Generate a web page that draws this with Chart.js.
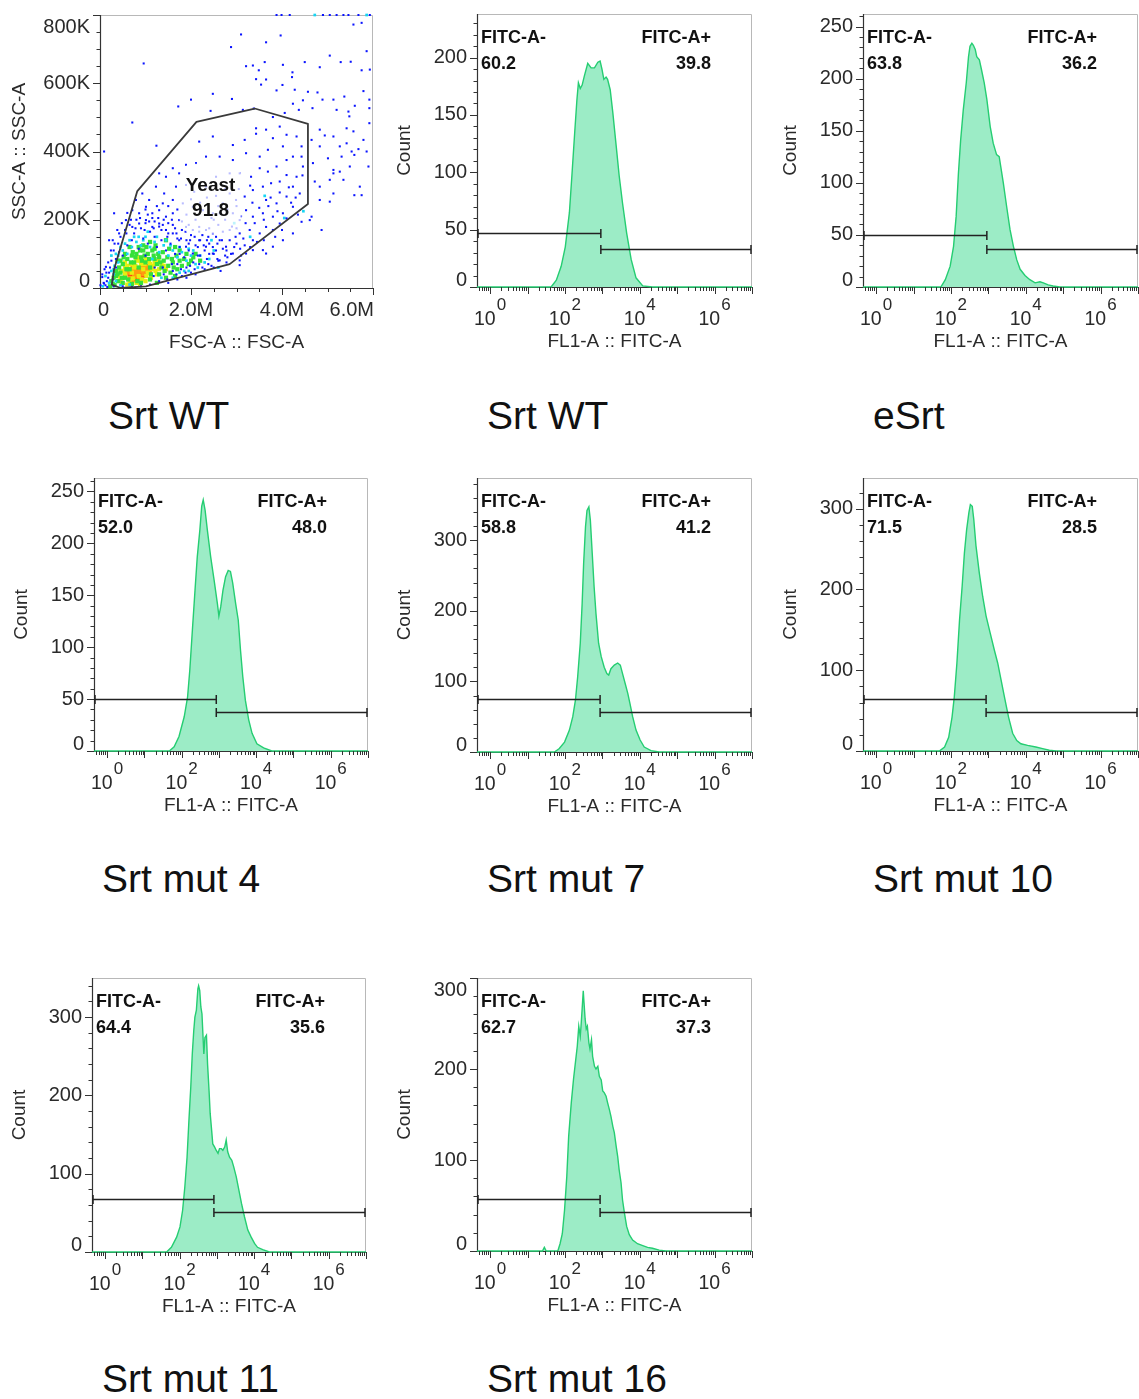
<!DOCTYPE html>
<html>
<head>
<meta charset="utf-8">
<script src="https://cdn.jsdelivr.net/npm/chart.js@4.4.1/dist/chart.umd.min.js"></script>
<style>
  body { margin:0; background:#fff; width:1139px; height:1399px; position:relative; overflow:hidden;
         font-family:"Liberation Sans", Arial, sans-serif; }
  canvas { position:absolute; }
  .title { position:absolute; font-size:39px; line-height:1; color:#111; white-space:nowrap; }
</style>
</head>
<body>
<script>
// ---------------- sample titles ----------------
const panelTitles = ['Srt WT', 'Srt WT', 'eSrt', 'Srt mut 4', 'Srt mut 7', 'Srt mut 10', 'Srt mut 11', 'Srt mut 16'];

// ---------------- FSC-A (M) / SSC-A (K) events, by density level ----------------
const eventsBlue = [
  3.10,743, 2.88,706, 3.65,720, 3.97,740, 5.57,772, 5.75,777, 5.86,694, 5.93,640, 5.75,638, 0.96,658,
  3.21,650, 3.36,652, 3.62,662, 3.49,638, 4.02,654, 4.23,632, 4.50,662, 4.83,647, 5.05,681, 5.29,662,
  5.51,663, 3.43,612, 3.65,611, 3.54,596, 3.88,579, 4.01,595, 4.22,618, 4.28,581, 4.57,575, 4.78,573,
  5.13,552, 5.37,561, 5.79,577, 5.60,534, 5.46,517, 5.20,522, 5.48,503, 5.92,527, 5.92,483, 2.00,552,
  2.48,569, 2.90,554, 1.72,532, 2.43,519, 3.14,522, 3.38,526, 4.24,540, 4.37,522, 4.46,550, 4.67,527,
  4.89,552, 4.06,513, 3.80,501, 0.71,485, 1.24,417, 0.09,400,
  4.83,464, 4.94,447, 5.13,444, 5.27,415, 5.42,424, 5.53,400, 5.59,390, 5.68,407, 5.79,434, 5.86,400,
  5.90,356, 5.49,356, 5.27,341, 5.13,336, 5.05,317, 4.83,297, 4.72,312, 4.68,366, 4.65,434, 5.35,317,
  5.59,272, 5.75,272, 5.71,297, 5.05,253, 4.83,258, 5.13,277, 4.65,209, 4.87,170, 5.13,346, 5.31,385,
  5.57,459, 5.42,468, 4.83,415, 5.01,380, 5.92,552,
  2.18,429, 2.48,444, 2.92,419, 3.18,434, 3.43,468, 3.43,452, 3.65,464, 3.80,439, 3.95,473, 4.10,449,
  4.32,444, 4.43,415, 4.02,415, 3.69,405, 3.51,385, 3.21,395, 2.92,375, 2.63,385, 2.33,385, 2.11,366,
  1.89,361, 1.74,336, 1.60,351, 1.45,326, 1.30,336, 1.23,297, 1.41,277, 1.67,297, 1.89,302, 2.07,282,
  2.33,297, 2.55,326, 2.85,336, 3.07,336, 3.32,326, 3.51,351, 3.69,341, 3.88,356, 4.10,375, 4.24,385,
  4.43,385, 4.46,356, 4.32,326, 4.10,331, 3.95,312, 3.76,307, 3.58,297, 3.36,287, 3.18,268, 2.99,258,
  2.85,277, 2.70,248, 2.63,219,
  3.65,258, 3.88,248, 4.10,268, 4.24,297, 4.39,277, 4.24,238, 4.02,219, 3.80,209, 3.58,219, 3.36,209,
  3.21,228, 3.07,199, 2.92,219, 2.85,170, 3.07,160, 3.29,170, 3.51,160, 3.65,179, 3.80,170, 3.95,189,
  4.10,204, 3.36,140, 3.58,111, 3.21,101, 3.07,81, 2.92,101, 2.77,121, 2.63,140, 2.48,160, 2.33,170,
  2.18,179, 2.04,170, 1.89,179, 1.74,199, 1.60,219, 1.45,209, 1.30,228, 1.15,219, 1.01,238, 0.86,219,
  0.71,228, 0.79,258, 0.93,277, 1.08,258, 1.38,248, 1.60,258, 1.82,248, 2.04,238, 2.26,228, 2.48,219,
  2.18,140, 2.33,121, 2.48,101, 2.63,81, 2.04,101, 1.89,121, 1.74,140, 1.60,160, 1.45,170, 1.30,189,
  1.15,179, 1.01,199, 0.86,189, 0.71,179, 0.57,199, 0.42,160, 0.31,219, 0.20,140, 0.13,62, 0.05,32,
  0.09,13, 0.16,3, 0.01,8, 4.43,194, 4.61,199, 3.80,121, 3.65,101, 4.02,140, 4.24,160,
  0.15,20, 0.20,45, 0.25,80, 0.30,110, 0.35,60, 0.40,130, 0.45,150, 0.50,95, 0.55,170, 0.60,125,
  0.65,185, 0.70,140, 0.75,160, 0.80,200, 0.85,115, 0.90,175, 0.95,145, 1.00,190, 1.05,130, 1.10,165,
  1.15,205, 1.20,150, 1.25,120, 1.30,180, 1.35,140, 1.40,200, 1.45,110, 1.50,160, 1.55,130, 1.60,185,
  1.65,100, 1.70,145, 1.75,120, 1.80,170, 1.85,90, 1.90,140, 1.95,110, 2.00,155, 2.05,75, 2.10,125,
  2.15,95, 2.20,140, 2.25,60, 2.30,110, 2.35,85, 2.40,130, 2.45,65, 2.50,100, 2.60,80, 2.70,115,
  2.80,90, 1.20,60, 1.40,40, 1.60,50, 1.80,35, 2.00,45, 1.30,20, 1.50,15, 1.10,10, 0.90,5,
  0.70,3, 0.50,5, 0.30,5, 0.12,8, 0.18,30, 0.28,25, 0.22,60, 0.35,85, 0.42,105, 1.00,95,
  1.70,70, 1.90,60, 2.20,95, 2.40,100, 0.60,220, 1.00,230, 1.25,240, 0.05,40, 0.08,15, 0.10,55,
  1.05,215, 1.20,195, 1.35,170, 1.50,190, 1.65,175, 1.80,195, 1.95,185, 2.10,200, 2.25,155, 2.40,175,
  2.55,150, 2.70,165, 2.85,140, 3.00,130, 3.15,145, 3.30,120, 3.45,135, 3.00,175, 3.20,190, 2.75,200,
  2.60,185, 2.45,205, 1.90,215, 1.70,230, 1.50,240, 2.00,260, 2.20,250, 2.35,265, 2.60,240, 2.80,230,
  3.00,240, 3.35,250, 3.50,235, 3.70,240, 3.90,225, 4.20,250, 4.35,215, 4.00,170, 3.85,150, 3.60,140,
  2.95,120, 2.75,95, 2.55,110, 2.35,140, 2.15,120, 1.95,130, 1.75,100, 2.65,50, 2.50,60, 2.30,55,
  2.10,40, 1.90,30, 1.70,25, 3.10,95, 3.36,111, 3.07,67,
  0.28,140, 0.38,170, 0.48,190, 0.58,160, 0.68,200, 0.78,175, 0.88,205, 0.98,170, 1.08,195, 1.18,175,
  1.28,205, 1.38,185, 1.48,150, 1.58,200, 1.68,160, 1.78,145, 1.88,165, 1.98,140, 2.08,150, 2.18,165,
  2.28,125, 2.38,150, 2.48,120, 2.58,130, 2.68,140, 2.78,110, 2.88,100, 2.98,150, 3.08,115, 3.18,125,
  1.38,60, 1.58,70, 1.78,55, 1.98,65, 2.18,70, 2.38,70, 2.58,85, 2.78,75, 1.48,25, 1.68,40,
  1.88,45, 2.08,55, 1.18,35, 0.14,45, 0.18,75, 0.24,110, 0.32,130, 2.20,230, 2.50,200, 2.90,180,
  3.10,210, 3.40,190, 3.60,200, 3.75,265, 3.95,280, 4.15,295, 4.30,265, 4.45,330, 3.30,300, 3.05,290,
  2.75,290, 2.55,270,
  3.88,800, 3.99,800, 4.17,800, 4.90,800, 5.05,800, 5.20,800, 5.35,800, 5.46,800, 5.68,800, 5.93,800
];
const eventsCyan = [
  0.20,15, 0.30,40, 0.35,20, 0.40,75, 0.50,110, 0.55,130, 0.60,100, 0.70,120, 0.80,135, 0.90,125,
  1.00,150, 1.10,120, 1.20,135, 1.30,105, 1.40,125, 1.50,95, 1.60,110, 1.70,90, 1.80,105, 1.90,80,
  2.00,95, 2.10,70, 2.30,75, 2.60,60, 1.15,85, 0.45,8, 0.65,10, 1.35,30, 1.60,30, 1.85,50,
  0.25,95, 0.32,65, 2.45,140, 2.95,190, 3.30,150, 3.62,270, 4.05,205, 4.47,225, 0.12,35, 0.06,5,
  1.05,165, 0.75,150, 4.72,800, 5.86,800,
  0.30,55, 0.40,95, 0.45,120, 0.65,140, 0.85,150, 0.95,140, 1.25,150, 1.45,140, 1.55,125, 1.75,120,
  1.95,115, 2.05,110, 2.20,95, 2.40,85, 2.50,110, 2.15,60, 1.95,50, 1.75,45, 0.25,50, 0.35,100
];
const eventsGreen = [
  0.30,30, 0.35,50, 0.40,20, 0.45,45, 0.50,70, 0.55,30, 0.60,85, 0.65,55, 0.70,95, 0.75,75,
  0.80,100, 0.85,60, 0.90,90, 0.95,110, 1.00,75, 1.05,100, 1.10,60, 1.15,110, 1.20,85, 1.25,70,
  1.30,90, 1.35,60, 1.40,80, 1.50,65, 1.60,75, 1.70,55, 1.80,65, 0.50,15, 0.70,12, 0.90,15,
  1.10,25, 1.30,40, 1.55,45, 0.38,80, 0.85,120, 1.20,115, 1.95,70, 0.28,12, 2.05,90, 2.20,80,
  1.65,120, 1.45,140,
  0.22,5, 0.25,20, 0.32,8, 0.38,40, 0.42,60, 0.48,30, 0.52,90, 0.58,55, 0.62,25, 0.68,75,
  0.72,105, 0.78,90, 0.82,20, 0.88,110, 0.92,80, 0.98,95, 1.02,120, 1.08,85, 1.12,40, 1.18,95,
  1.22,125, 1.28,100, 1.32,75, 1.38,105, 1.42,50, 1.48,90, 1.52,115, 1.58,85, 1.62,60, 1.68,95,
  1.75,80, 1.85,85, 1.90,100, 2.00,80, 0.45,80, 0.55,100, 0.65,120, 0.35,35, 1.25,15, 1.45,30,
  1.65,35, 0.95,125, 1.10,135, 1.75,110, 2.10,100
];
const eventsYellow = [
  0.40,35, 0.45,25, 0.50,50, 0.55,40, 0.60,65, 0.65,20, 0.70,45, 0.75,60, 0.80,80, 0.85,35,
  0.90,70, 0.95,55, 1.00,85, 1.05,45, 1.10,70, 1.15,55, 1.20,75, 1.30,55, 1.40,65, 0.60,10,
  0.80,15, 1.00,20, 1.25,40, 0.55,75,
  0.45,50, 0.50,30, 0.55,60, 0.62,55, 0.68,70, 0.72,28, 0.78,65, 0.82,90, 0.88,80, 0.92,25,
  0.98,70, 1.02,35, 1.08,80, 1.12,30, 1.18,65, 1.22,50, 1.28,80, 1.35,70, 0.48,15, 0.68,8,
  0.88,10, 1.45,55
];
const eventsOrange = [
  0.55,35, 0.60,45, 0.65,30, 0.70,55, 0.75,40, 0.80,55, 0.85,45, 0.90,60, 0.95,40, 1.00,55,
  1.05,65, 1.10,45, 0.70,20, 0.90,25, 1.15,60,
  0.62,55, 0.68,45, 0.72,65, 0.78,50, 0.82,40, 0.88,55, 0.92,50, 0.98,60, 1.02,48, 0.75,30,
  0.85,30, 1.08,55
];
const eventsRed = [
  0.65,40, 0.70,35, 0.75,48, 0.80,30, 0.85,50, 0.90,42, 0.95,35, 0.78,22, 1.00,45, 0.72,58,
  0.68,45, 0.82,40, 0.88,45, 0.78,55, 0.92,50, 0.72,30
];

// Yeast gate vertices (FSC-A in M, SSC-A in K) and its frequency
const yeastGate = [[0.82,284],[0.31,55],[0.26,10],[0.45,0],[1.01,5],[2.85,70],[4.57,246],[4.57,481],[3.40,526],[2.12,487]];
const yeastPct = '91.8';
const yeastLabelAt = [2.43, 300];

// scatter axis ticks
const fscMajor = [0, 2, 4, 6];
const fscLabels = ['0', '2.0M', '4.0M', '6.0M'];
const fscMinor = [0.5, 1, 1.5, 2.5, 3, 3.5, 4.5, 5, 5.5];
const sscMajor = [0, 200, 400, 600, 800];
const sscLabels = ['0', '200K', '400K', '600K', '800K'];
const sscMinor = [50, 100, 150, 250, 300, 350, 450, 500, 550, 650, 700, 750];

// ---------------- FITC-A histograms: [log10 FL1-A, count] ----------------
const histWT = [[-0.35,0],[1.63,0],[1.77,6],[1.90,18],[2.01,35],[2.12,65],[2.19,99],[2.26,134],[2.32,163],[2.36,178],
  [2.41,173],[2.46,176],[2.52,184],[2.61,195],[2.70,191],[2.79,191],[2.88,196],[2.94,197],[2.99,190],[3.04,181],
  [3.10,183],[3.14,181],[3.21,172],[3.28,152],[3.37,123],[3.45,97],[3.54,73],[3.65,47],[3.77,24],[3.90,8],
  [4.08,1],[4.34,0],[7,0]];
const histESrt = [[-0.35,0],[1.73,0],[1.85,7],[1.98,20],[2.07,39],[2.14,68],[2.20,109],[2.26,141],[2.33,170],[2.41,196],
  [2.47,221],[2.51,231],[2.56,234],[2.60,232],[2.65,228],[2.69,221],[2.76,218],[2.82,208],[2.89,196],[2.96,180],
  [3.05,154],[3.13,138],[3.22,127],[3.29,125],[3.33,116],[3.40,100],[3.49,77],[3.58,55],[3.67,39],[3.76,26],
  [3.85,17],[3.98,11],[4.11,7],[4.25,4],[4.38,5],[4.47,4],[4.60,2],[4.73,1],[4.91,0],[7,0]];
const histMut4 = [[-0.35,0],[1.67,0],[1.80,4],[1.93,14],[2.07,33],[2.16,52],[2.22,78],[2.29,117],[2.36,155],[2.42,187],
  [2.49,213],[2.54,236],[2.58,242],[2.63,232],[2.69,213],[2.78,187],[2.87,165],[2.96,142],[3.00,130],[3.05,139],
  [3.11,155],[3.18,168],[3.25,174],[3.31,173],[3.37,162],[3.45,142],[3.52,126],[3.58,97],[3.64,72],[3.71,49],
  [3.80,30],[3.89,17],[4.02,7],[4.20,3],[4.42,0],[7,0]];
const histMut7 = [[-0.35,0],[1.72,0],[1.85,5],[1.99,14],[2.12,31],[2.21,50],[2.28,73],[2.34,106],[2.41,154],[2.46,210],
  [2.50,267],[2.55,319],[2.59,342],[2.64,347],[2.68,328],[2.73,281],[2.78,234],[2.83,196],[2.90,154],[2.97,135],
  [3.05,120],[3.12,111],[3.17,109],[3.23,118],[3.32,123],[3.41,126],[3.48,123],[3.54,111],[3.61,97],[3.68,83],
  [3.74,68],[3.81,50],[3.90,31],[4.01,17],[4.12,7],[4.30,2],[4.52,0],[7,0]];
const histMut10 = [[-0.35,0],[1.69,0],[1.83,5],[1.94,17],[2.03,42],[2.09,67],[2.16,109],[2.23,162],[2.30,204],[2.36,245],
  [2.42,274],[2.48,295],[2.52,305],[2.57,303],[2.61,287],[2.67,254],[2.76,220],[2.85,191],[2.94,167],[3.05,146],
  [3.16,125],[3.25,109],[3.34,88],[3.43,67],[3.54,42],[3.65,22],[3.76,13],[3.87,9],[4.05,7],[4.27,5],
  [4.45,3],[4.63,1],[4.81,0],[7,0]];
const histMut11 = [[-0.35,0],[1.65,0],[1.78,6],[1.92,19],[2.01,32],[2.08,53],[2.14,83],[2.20,121],[2.25,168],[2.30,211],
  [2.34,253],[2.38,283],[2.41,300],[2.45,309],[2.49,336],[2.51,340],[2.54,334],[2.57,313],[2.60,304],[2.65,253],
  [2.68,274],[2.72,277],[2.75,240],[2.79,206],[2.82,177],[2.86,155],[2.89,138],[2.94,134],[2.98,130],[3.03,126],
  [3.07,132],[3.12,132],[3.16,130],[3.21,134],[3.25,143],[3.29,128],[3.34,121],[3.40,117],[3.45,109],[3.52,96],
  [3.59,79],[3.66,62],[3.74,45],[3.83,28],[3.92,19],[4.01,11],[4.09,6],[4.23,3],[4.41,0],[7,0]];
const histMut16 = [[-0.35,0],[1.40,0],[1.45,4],[1.50,0],[1.81,0],[1.87,8],[1.93,19],[1.99,45],[2.05,82],[2.10,126],
  [2.17,163],[2.23,189],[2.28,207],[2.33,225],[2.37,247],[2.41,236],[2.43,247],[2.46,266],[2.49,286],[2.51,273],
  [2.54,255],[2.57,244],[2.60,247],[2.64,229],[2.67,222],[2.71,232],[2.74,214],[2.79,203],[2.83,200],[2.88,203],
  [2.92,192],[2.97,188],[3.01,176],[3.05,174],[3.10,170],[3.14,163],[3.19,155],[3.23,148],[3.28,137],[3.32,130],
  [3.37,115],[3.41,104],[3.45,89],[3.50,75],[3.54,56],[3.59,42],[3.65,27],[3.72,18],[3.81,12],[3.94,8],
  [4.08,6],[4.21,4],[4.34,3],[4.52,1],[4.70,0],[7,0]];
const histograms = [histWT, histESrt, histMut4, histMut7, histMut10, histMut11, histMut16];

// FITC-A gates: split point (log10), bar heights (count) and frequencies
const gateSplitLog = [2.96, 2.96, 2.93, 2.94, 2.94, 2.92, 2.94];
const gateNegLevel = [47, 50, 50, 75, 64, 68, 57];
const gatePosLevel = [33, 36, 38, 57, 48, 51, 43];
const fitcNegPct = ['60.2', '63.8', '52.0', '58.8', '71.5', '64.4', '62.7'];
const fitcPosPct = ['39.8', '36.2', '48.0', '41.2', '28.5', '35.6', '37.3'];

// count axes
const countMax = [238, 262, 263, 388, 338, 350, 300];
const countStep = [50, 50, 50, 100, 100, 100, 100];
const countMinorStep = [10, 10, 10, 20, 20, 20, 20];
// FL1-A axis
const flLogMin = -0.35, flLogMax = 7;
const decadeLabels = [0, 2, 4, 6];

// ---------------- page layout ----------------
const scatterBox = {l:100, t:15, r:373, b:288};
const histBoxes = [
  {l:477, t:14,  r:752,  b:287},
  {l:863, t:14,  r:1138, b:287},
  {l:94,  t:478, r:368,  b:751},
  {l:477, t:478, r:752,  b:752},
  {l:863, t:478, r:1138, b:751},
  {l:92,  t:978, r:366,  b:1252},
  {l:477, t:978, r:752,  b:1251}
];
const titleSpots = [[108,396],[487,396],[873,396],[102,859],[487,859],[873,859],[102,1359],[487,1359]];
const PAD = {left:100, top:14, right:25, bottom:75};
const FONT = '"Liberation Sans", Arial, sans-serif';
const INK = '#2a2a2a';

function makeCanvas(box) {
  const c = document.createElement('canvas');
  const w = box.r - box.l + PAD.left + PAD.right;
  const h = box.b - box.t + PAD.top + PAD.bottom;
  c.width = w; c.height = h;
  c.style.left = (box.l - PAD.left) + 'px';
  c.style.top = (box.t - PAD.top) + 'px';
  c.style.width = w + 'px';
  c.style.height = h + 'px';
  document.body.appendChild(c);
  return c;
}

function toPoints(flat) {
  const out = [];
  for (let i = 0; i < flat.length; i += 2) out.push({x: flat[i], y: flat[i + 1]});
  return out;
}

// Frame, ticks, tick labels, axis titles, gates and gate labels for one panel
function panelPlugin(spec) {
  return {
    id: 'flowPanel',
    beforeDatasetsDraw(chart) {
      const {ctx, chartArea: a} = chart;
      ctx.save();
      ctx.lineWidth = 1;
      ctx.strokeStyle = '#b8b8b8';
      ctx.beginPath();
      ctx.moveTo(a.left, a.top + 0.5);
      ctx.lineTo(a.right - 0.5, a.top + 0.5);
      ctx.lineTo(a.right - 0.5, a.bottom);
      ctx.stroke();
      ctx.strokeStyle = '#333';
      ctx.lineWidth = 1.2;
      ctx.beginPath();
      ctx.moveTo(a.left + 0.5, a.top);
      ctx.lineTo(a.left + 0.5, a.bottom + 0.5);
      ctx.lineTo(a.right, a.bottom + 0.5);
      ctx.stroke();
      ctx.restore();
    },
    afterDatasetsDraw(chart) {
      const {ctx, chartArea: a, scales} = chart;
      const xs = scales.x, ys = scales.y;
      ctx.save();

      // gate polygon (scatter)
      if (spec.polygon) {
        ctx.strokeStyle = '#3a3a3a';
        ctx.lineWidth = 1.8;
        ctx.lineJoin = 'round';
        ctx.beginPath();
        spec.polygon.forEach(([x, y], i) => {
          const px = xs.getPixelForValue(x), py = ys.getPixelForValue(y);
          if (i === 0) ctx.moveTo(px, py); else ctx.lineTo(px, py);
        });
        ctx.closePath();
        ctx.stroke();
        const cx = xs.getPixelForValue(spec.polyLabel.at[0]);
        const cy = ys.getPixelForValue(spec.polyLabel.at[1]);
        ctx.fillStyle = 'rgba(255,255,255,0.72)';
        ctx.beginPath();
        ctx.roundRect(cx - 31, cy - 22, 62, 70, 14);
        ctx.fill();
        ctx.fillStyle = '#111';
        ctx.font = 'bold 19px ' + FONT;
        ctx.textAlign = 'center';
        ctx.textBaseline = 'middle';
        ctx.fillText(spec.polyLabel.name, cx, cy);
        ctx.fillText(spec.polyLabel.pct, cx, cy + 25);
      }

      // range gates (histograms)
      if (spec.gate) {
        const g = spec.gate;
        const sx = xs.getPixelForValue(g.split);
        const yn = Math.round(ys.getPixelForValue(g.neg)) + 0.5;
        const yp = Math.round(ys.getPixelForValue(g.pos)) + 0.5;
        ctx.strokeStyle = '#222';
        ctx.lineWidth = 1.5;
        const bar = (x0, x1, y) => {
          ctx.beginPath();
          ctx.moveTo(x0, y); ctx.lineTo(x1, y);
          ctx.moveTo(x0, y - 4.5); ctx.lineTo(x0, y + 4.5);
          ctx.moveTo(x1, y - 4.5); ctx.lineTo(x1, y + 4.5);
          ctx.stroke();
        };
        bar(a.left + 1, sx, yn);
        bar(sx, a.right - 1, yp);
        ctx.fillStyle = '#111';
        ctx.font = 'bold 18px ' + FONT;
        ctx.textBaseline = 'middle';
        ctx.textAlign = 'left';
        ctx.fillText(g.negName, a.left + 4, a.top + 24);
        ctx.fillText(g.negPct, a.left + 4, a.top + 50);
        ctx.textAlign = 'right';
        ctx.fillText(g.posName, a.right - 41, a.top + 24);
        ctx.fillText(g.posPct, a.right - 41, a.top + 50);
      }

      // ticks
      ctx.strokeStyle = '#333';
      ctx.lineWidth = 1;
      const inside = (p, lo, hi) => p >= lo - 0.6 && p <= hi + 0.6;
      ctx.beginPath();
      spec.yMinor.forEach(v => {
        const py = Math.round(ys.getPixelForValue(v)) + 0.5;
        if (inside(py, a.top, a.bottom)) { ctx.moveTo(a.left - 3.5, py); ctx.lineTo(a.left, py); }
      });
      spec.yMajor.forEach(v => {
        const py = Math.round(ys.getPixelForValue(v)) + 0.5;
        if (inside(py, a.top, a.bottom)) { ctx.moveTo(a.left - 7, py); ctx.lineTo(a.left, py); }
      });
      spec.xMinor.forEach(v => {
        const px = Math.round(xs.getPixelForValue(v)) + 0.5;
        if (inside(px, a.left, a.right)) { ctx.moveTo(px, a.bottom); ctx.lineTo(px, a.bottom + 4); }
      });
      spec.xMajor.forEach(v => {
        const px = Math.round(xs.getPixelForValue(v)) + 0.5;
        if (inside(px, a.left, a.right)) { ctx.moveTo(px, a.bottom); ctx.lineTo(px, a.bottom + 7); }
      });
      ctx.stroke();

      // y tick labels
      ctx.fillStyle = INK;
      ctx.font = '20px ' + FONT;
      ctx.textAlign = 'right';
      ctx.textBaseline = 'middle';
      spec.yLabels.forEach(([v, t]) => {
        let py = ys.getPixelForValue(v);
        py = Math.min(Math.max(py, a.top + 12), a.bottom - 7);
        ctx.fillText(t, a.left - 10, py);
      });

      // x tick labels
      spec.xLabels.forEach(([v, t, sup]) => {
        const px = xs.getPixelForValue(v);
        if (sup !== undefined) {
          ctx.font = '19.5px ' + FONT;
          const w1 = ctx.measureText(t).width;
          ctx.font = '17px ' + FONT;
          const w2 = ctx.measureText(sup).width;
          const x0 = px - (w1 + w2 + 1) / 2;
          ctx.textAlign = 'left';
          ctx.font = '19.5px ' + FONT;
          ctx.fillText(t, x0, a.bottom + 33);
          ctx.font = '17px ' + FONT;
          ctx.fillText(sup, x0 + w1 + 1, a.bottom + 18);
        } else {
          ctx.font = '20px ' + FONT;
          const w = ctx.measureText(t).width;
          let x0 = px - w / 2;
          x0 = Math.max(x0, a.left - 2);
          x0 = Math.min(x0, a.right + 1 - w);
          ctx.textAlign = 'left';
          ctx.fillText(t, x0, a.bottom + 22);
        }
      });

      // axis titles
      ctx.font = '19px ' + FONT;
      ctx.textAlign = 'center';
      ctx.textBaseline = 'middle';
      ctx.fillText(spec.xTitle, (a.left + a.right) / 2, a.bottom + 55);
      ctx.translate(a.left - spec.yTitleGap, (a.top + a.bottom) / 2);
      ctx.rotate(-Math.PI / 2);
      ctx.fillText(spec.yTitle, 0, 0);
      ctx.restore();
    }
  };
}

const baseOptions = (scales) => ({
  responsive: false,
  animation: false,
  devicePixelRatio: 1,
  events: [],
  layout: {padding: PAD},
  scales,
  plugins: {legend: {display: false}, tooltip: {enabled: false}}
});

// ---------------- FSC-A / SSC-A pseudocolor dot plot ----------------
(function () {
  const levels = [
    [eventsBlue, '#0a14ff', 1.45],
    [eventsCyan, '#17d4f2', 1.9],
    [eventsGreen, '#35e03a', 3.0],
    [eventsYellow, '#e6ee10', 3.0],
    [eventsOrange, '#ff9a10', 3.0],
    [eventsRed, '#ff2a10', 3.0]
  ];
  new Chart(makeCanvas(scatterBox), {
    type: 'scatter',
    data: {
      datasets: levels.map(([arr, color, r]) => ({
        data: toPoints(arr),
        backgroundColor: color,
        borderWidth: 0,
        pointStyle: 'rect',
        pointRadius: r,
        clip: 2
      }))
    },
    options: baseOptions({
      x: {type: 'linear', min: 0, max: 6, display: false},
      y: {type: 'linear', min: 0, max: 800, display: false}
    }),
    plugins: [panelPlugin({
      polygon: yeastGate,
      polyLabel: {at: yeastLabelAt, name: 'Yeast', pct: yeastPct},
      xMajor: fscMajor, xMinor: fscMinor,
      xLabels: fscMajor.map((v, i) => [v, fscLabels[i]]),
      yMajor: sscMajor, yMinor: sscMinor,
      yLabels: sscMajor.map((v, i) => [v, sscLabels[i]]),
      xTitle: 'FSC-A :: FSC-A', yTitle: 'SSC-A :: SSC-A', yTitleGap: 80
    })]
  });
})();

// ---------------- FITC-A histograms ----------------
histograms.forEach((hist, i) => {
  const yMajor = [], yMinor = [];
  for (let v = 0; v <= countMax[i]; v += countMinorStep[i]) {
    if (v % countStep[i] === 0) yMajor.push(v); else yMinor.push(v);
  }
  const xMajor = [], xMinor = [];
  for (let k = -1; k <= 7; k++) {
    xMajor.push(Math.pow(10, k));
    for (let m = 2; m <= 9; m++) xMinor.push(m * Math.pow(10, k));
  }
  new Chart(makeCanvas(histBoxes[i]), {
    type: 'line',
    data: {
      datasets: [{
        data: hist.map(([e, c]) => ({x: Math.pow(10, e), y: c})),
        borderColor: '#25cd72',
        backgroundColor: '#9cecc6',
        borderWidth: 1.4,
        fill: 'origin',
        pointRadius: 0,
        tension: 0,
        clip: 3
      }]
    },
    options: baseOptions({
      x: {type: 'logarithmic', min: Math.pow(10, flLogMin), max: Math.pow(10, flLogMax), display: false},
      y: {type: 'linear', min: 0, max: countMax[i], display: false}
    }),
    plugins: [panelPlugin({
      gate: {
        split: Math.pow(10, gateSplitLog[i]), neg: gateNegLevel[i], pos: gatePosLevel[i],
        negName: 'FITC-A-', posName: 'FITC-A+', negPct: fitcNegPct[i], posPct: fitcPosPct[i]
      },
      xMajor, xMinor,
      xLabels: decadeLabels.map(k => [Math.pow(10, k), '10', String(k)]),
      yMajor, yMinor,
      yLabels: yMajor.map(v => [v, String(v)]),
      xTitle: 'FL1-A :: FITC-A', yTitle: 'Count', yTitleGap: 72
    })]
  });
});

// ---------------- sample titles ----------------
panelTitles.forEach((t, i) => {
  const d = document.createElement('div');
  d.className = 'title';
  d.textContent = t;
  d.style.left = titleSpots[i][0] + 'px';
  d.style.top = titleSpots[i][1] + 'px';
  document.body.appendChild(d);
});
</script>
</body>
</html>
